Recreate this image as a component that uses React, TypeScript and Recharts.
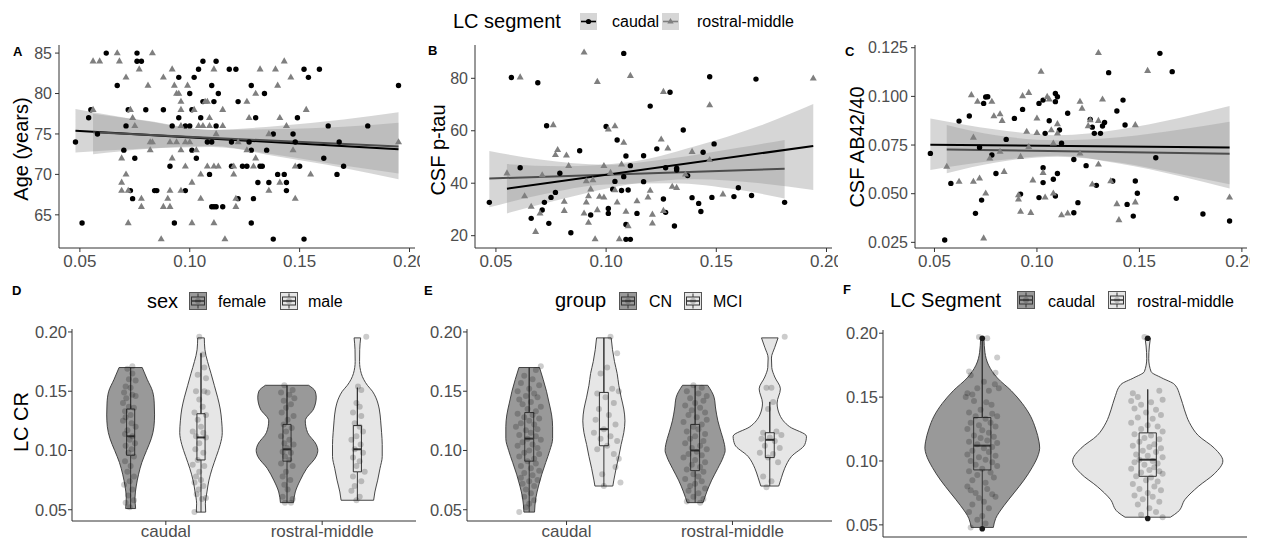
import React from "react";
import { ComposedChart, XAxis, YAxis, Area, Line, Scatter } from "recharts";

const FONT = '"Liberation Sans", Arial, Helvetica, sans-serif';

// ---------- top row: LC CR vs age / p-tau / AB42/40 ----------
const X_TICKS = [0.05, 0.1, 0.15, 0.2];
const AGE_TICKS = [65, 70, 75, 80, 85];
const PTAU_TICKS = [20, 40, 60, 80];
const AB_TICKS = [0.025, 0.05, 0.075, 0.1, 0.125];

const caudalA: [number, number][] = [[.048,74],[.051,64],[.054,77],[.055,78],[.058,75],[.062,85],[.067,81],[.070,73],[.071,76],[.072,78],[.073,68],[.074,67],[.075,72],[.076,85],[.076,84],[.078,84],[.080,78],[.084,68],[.085,68],[.088,78],[.091,71],[.092,76],[.093,64],[.095,82],[.095,77],[.098,76],[.098,68],[.100,80],[.100,76],[.101,73],[.101,78],[.102,82],[.103,72],[.104,83],[.105,77],[.106,84],[.106,79],[.108,74],[.109,70],[.110,74],[.110,66],[.110,81],[.111,66],[.111,79],[.112,84],[.112,76],[.112,66],[.113,80],[.115,66],[.118,83],[.119,74],[.119,71],[.121,83],[.122,79],[.122,67],[.124,71],[.126,71],[.127,74],[.128,81],[.128,73],[.128,64],[.129,67],[.130,77],[.131,69],[.132,71],[.133,71],[.134,80],[.135,73],[.136,69],[.138,75],[.138,62],[.140,70],[.143,70],[.144,69],[.144,68],[.147,75],[.148,74],[.149,77],[.150,71],[.152,83],[.152,62],[.154,82],[.159,83],[.161,72],[.163,76],[.167,70],[.168,74],[.170,71],[.181,76],[.195,81]];
const rostralA: [number, number][] = [[.056,84],[.059,84],[.056,78],[.067,85],[.068,84],[.071,82],[.069,72],[.069,69],[.069,68],[.071,70],[.072,68],[.072,64],[.073,78],[.074,77],[.075,76],[.077,83],[.078,67],[.078,66],[.081,81],[.082,74],[.082,73],[.083,85],[.083,74],[.087,62],[.088,82],[.088,66],[.090,67],[.091,74],[.091,66],[.091,68],[.092,83],[.092,72],[.093,81],[.094,74],[.094,80],[.095,80],[.096,76],[.096,78],[.096,68],[.096,73],[.096,79],[.098,74],[.098,71],[.099,81],[.100,74],[.101,64],[.101,69],[.102,78],[.103,73],[.104,76],[.105,67],[.105,70],[.106,76],[.107,79],[.108,71],[.108,79],[.109,77],[.109,76],[.111,64],[.111,71],[.111,83],[.112,75],[.113,71],[.115,76],[.115,78],[.116,62],[.120,71],[.120,70],[.121,67],[.121,66],[.122,74],[.126,73],[.126,79],[.127,77],[.129,71],[.130,72],[.130,80],[.132,83],[.136,68],[.136,75],[.139,83],[.140,81],[.141,69],[.141,77],[.143,84],[.144,76],[.146,82],[.147,73],[.148,71],[.148,67],[.153,78],[.155,70],[.195,74]];
const bandCaudalA: [number, number, number][] = [[.048,72.7,78.1],[.08,73.2,76.6],[.11,73.4,75.5],[.14,72.4,75.6],[.17,71.1,75.9],[.195,70.1,76.4]];
const bandRostralA: [number, number, number][] = [[.056,72.5,77.5],[.08,73.15,76.65],[.11,73.5,75.5],[.14,72.2,76.0],[.17,70.8,76.8],[.195,69.4,77.7]];
const fitCaudalA: [number, number][] = [[.048,75.4],[.195,73.1]];
const fitRostralA: [number, number][] = [[.056,75.2],[.195,73.45]];

const caudalB: [number, number][] = [[.047,32.7],[.057,80.3],[.061,45.9],[.066,26.6],[.069,78.3],[.071,29.8],[.072,32.7],[.073,61.9],[.074,24.7],[.075,34.6],[.077,36.5],[.079,43.8],[.084,21.1],[.088,52.4],[.093,27.9],[.100,61.6],[.101,30.4],[.101,28.5],[.103,37.7],[.104,40.7],[.105,56.5],[.107,37.2],[.108,42.5],[.108,89.5],[.109,18.6],[.109,50.4],[.109,24.3],[.110,37.4],[.111,18.6],[.111,46.7],[.114,28.5],[.117,50.5],[.117,40.6],[.120,69.4],[.123,53.1],[.126,34.0],[.127,45.9],[.127,28.9],[.129,74.7],[.131,23.7],[.132,45.0],[.132,45.7],[.135,60.3],[.137,42.9],[.139,34.5],[.142,32.3],[.143,29.2],[.144,51.8],[.147,80.6],[.148,34.6],[.149,55.0],[.158,34.9],[.160,38.3],[.166,35.3],[.168,79.7],[.181,32.7]];
const rostralB: [number, number][] = [[.055,43.8],[.061,80.4],[.063,35.1],[.066,31.1],[.068,21.5],[.070,28.5],[.071,43.1],[.076,62.2],[.077,50.8],[.078,52.7],[.081,33.0],[.081,29.5],[.082,50.6],[.083,46.6],[.090,89.9],[.090,28.5],[.091,40.8],[.091,32.7],[.092,35.1],[.092,25.0],[.093,37.7],[.094,41.2],[.095,18.7],[.096,29.8],[.096,78.7],[.097,34.9],[.099,46.6],[.099,34.6],[.101,60.6],[.102,44.0],[.104,61.8],[.104,37.4],[.105,32.7],[.106,18.7],[.107,47.2],[.108,55.5],[.109,29.2],[.110,23.7],[.111,81.0],[.114,33.2],[.119,34.6],[.120,37.2],[.121,24.7],[.121,28.1],[.125,56.7],[.126,29.5],[.126,74.9],[.128,53.3],[.130,38.7],[.132,38.3],[.136,43.4],[.139,52.0],[.147,69.8],[.147,48.9],[.153,35.8],[.194,80.0]];
const bandCaudalB: [number, number, number][] = [[.047,30.8,52.3],[.07,35.5,49.0],[.10,39.5,47.0],[.13,40.0,49.5],[.16,37.5,53.5],[.181,34.2,56.5]];
const bandRostralB: [number, number, number][] = [[.055,28.5,47.3],[.08,34.0,46.5],[.11,39.5,48.0],[.14,41.5,54.0],[.17,40.0,62.0],[.194,37.4,70.2]];
const fitCaudalB: [number, number][] = [[.047,41.8],[.181,45.5]];
const fitRostralB: [number, number][] = [[.055,37.9],[.194,54.2]];

const caudalC: [number, number][] = [[.048,.0707],[.055,.0262],[.058,.0553],[.062,.0873],[.067,.0899],[.070,.0399],[.072,.0738],[.073,.0467],[.074,.0964],[.075,.0997],[.076,.0998],[.078,.0699],[.080,.0604],[.085,.0779],[.089,.0887],[.092,.0498],[.093,.0933],[.101,.0480],[.101,.0964],[.103,.0633],[.103,.0557],[.103,.0981],[.104,.0810],[.106,.0875],[.108,.0574],[.109,.1015],[.109,.0488],[.109,.0973],[.110,.0604],[.110,.0998],[.111,.0827],[.112,.0759],[.115,.0913],[.118,.0676],[.118,.0402],[.120,.0454],[.124,.0644],[.126,.0882],[.127,.0842],[.128,.0810],[.129,.0543],[.131,.0810],[.132,.0848],[.133,.0866],[.135,.1122],[.137,.0565],[.139,.0925],[.142,.0981],[.143,.0853],[.144,.0445],[.147,.0385],[.148,.0565],[.149,.0502],[.158,.0685],[.160,.1221],[.166,.1127],[.168,.0476],[.181,.0396],[.194,.0360]];
const rostralC: [number, number][] = [[.056,.0639],[.062,.0562],[.068,.1007],[.069,.0789],[.069,.0562],[.071,.0973],[.072,.0579],[.074,.0271],[.075,.0502],[.077,.0682],[.078,.0973],[.079,.0899],[.082,.0716],[.082,.0909],[.083,.0875],[.084,.0613],[.091,.0493],[.091,.0471],[.092,.0408],[.092,.0690],[.093,.1002],[.095,.0819],[.096,.0741],[.096,.1019],[.097,.0402],[.098,.0569],[.100,.0813],[.100,.0887],[.102,.1127],[.103,.0608],[.104,.0481],[.105,.0998],[.106,.0985],[.107,.0827],[.108,.0759],[.108,.0502],[.110,.0858],[.110,.0810],[.112,.0390],[.115,.0399],[.121,.0973],[.121,.0707],[.122,.0938],[.125,.0848],[.126,.0878],[.127,.0548],[.130,.0651],[.130,.0875],[.130,.1224],[.132,.0985],[.136,.0565],[.139,.0447],[.140,.0365],[.148,.0853],[.148,.0456],[.154,.1132],[.194,.0481]];
const bandCaudalC: [number, number, number][] = [[.048,.0622,.0887],[.08,.0670,.0830],[.11,.0695,.0800],[.14,.0655,.0830],[.17,.0590,.0890],[.194,.0527,.0950]];
const bandRostralC: [number, number, number][] = [[.056,.0605,.0853],[.08,.0660,.0800],[.11,.0690,.0775],[.14,.0660,.0790],[.17,.0600,.0830],[.194,.0548,.0870]];
const fitCaudalC: [number, number][] = [[.048,.0752],[.194,.0738]];
const fitRostralC: [number, number][] = [[.056,.0727],[.194,.0705]];

// ---------- bottom row: violins of LC CR ----------
const segments = ["caudal", "rostral-middle"];
const LC_TICKS = [0.05, 0.1, 0.15, 0.2];

// violin profiles: [LC CR, half width in category units]
const violinFemaleCaudal: [number, number][] = [[.170,.074],[.160,.106],[.150,.140],[.140,.151],[.130,.153],[.120,.149],[.110,.132],[.100,.102],[.090,.072],[.080,.051],[.070,.036],[.060,.028],[.051,.032]];
const violinMaleCaudal: [number, number][] = [[.195,.021],[.185,.025],[.175,.042],[.165,.064],[.155,.085],[.145,.106],[.135,.123],[.125,.132],[.115,.136],[.105,.123],[.095,.098],[.085,.072],[.075,.051],[.065,.038],[.055,.028],[.048,.030]];
const violinFemaleRostral: [number, number][] = [[.155,.138],[.150,.180],[.145,.187],[.135,.170],[.125,.117],[.115,.132],[.105,.187],[.100,.197],[.095,.187],[.085,.127],[.075,.085],[.065,.053],[.056,.042]];
const violinMaleRostral: [number, number][] = [[.195,.021],[.185,.015],[.175,.014],[.165,.025],[.155,.064],[.150,.096],[.145,.117],[.135,.140],[.125,.149],[.115,.155],[.105,.159],[.095,.159],[.085,.145],[.075,.130],[.065,.112],[.058,.104]];

const violinCNCaudal: [number, number][] = [[.170,.062],[.160,.084],[.150,.104],[.140,.120],[.130,.135],[.120,.141],[.110,.141],[.100,.124],[.090,.100],[.080,.076],[.070,.056],[.060,.040],[.048,.032]];
const violinMCICaudal: [number, number][] = [[.195,.044],[.185,.052],[.175,.064],[.165,.080],[.155,.090],[.145,.104],[.135,.120],[.125,.127],[.115,.120],[.105,.104],[.095,.090],[.085,.074],[.075,.060],[.070,.054]];
const violinCNRostral: [number, number][] = [[.155,.076],[.145,.114],[.135,.124],[.125,.137],[.115,.157],[.105,.177],[.100,.181],[.095,.171],[.085,.137],[.075,.100],[.065,.070],[.056,.048]];
const violinMCIRostral: [number, number][] = [[.195,.050],[.187,.030],[.178,.010],[.170,.012],[.162,.030],[.152,.064],[.140,.044],[.130,.060],[.120,.120],[.112,.221],[.105,.211],[.095,.131],[.085,.090],[.077,.070],[.070,.054]];

const violinSegCaudal: [number, number][] = [[.196,.010],[.185,.016],[.175,.038],[.165,.091],[.155,.175],[.145,.242],[.135,.292],[.125,.323],[.115,.343],[.110,.347],[.105,.339],[.095,.302],[.085,.252],[.075,.192],[.065,.131],[.055,.081],[.048,.067]];
const violinSegRostral: [number, number][] = [[.196,.016],[.190,.010],[.180,.006],[.170,.020],[.165,.085],[.160,.161],[.150,.198],[.140,.222],[.130,.252],[.120,.305],[.110,.403],[.100,.454],[.090,.403],[.080,.305],[.070,.226],[.060,.181],[.056,.137]];

// boxplot stats: [lower whisker, q1, median, q3, upper whisker]
const boxD = [[.051,.096,.112,.135,.170],[.048,.092,.111,.131,.182],[.056,.091,.101,.122,.155],[.058,.082,.101,.121,.153]];
const boxE = [[.048,.091,.110,.132,.170],[.070,.104,.118,.149,.195],[.056,.083,.100,.122,.155],[.070,.094,.109,.115,.141]];
const boxF = [[.048,.093,.112,.134,.196],[.056,.088,.101,.122,.156]];
const outliersF = [[.196,.047],[.196,.055]];

// jittered points: [offset from violin centre, LC CR]
const jitterFemaleCaudal: [number, number][] = [[.011,.171],[-.021,.169],[.011,.165],[-.011,.160],[.032,.159],[-.032,.154],[0,.153],[-.042,.149],[.011,.147],[.032,.146],[-.028,.144],[-.049,.140],[-.011,.137],[.021,.136],[-.036,.133],[0,.130],[-.032,.128],[-.049,.125],[.006,.123],[.032,.120],[-.021,.117],[-.036,.114],[.011,.112],[-.006,.109],[.028,.106],[-.032,.104],[.006,.101],[-.015,.098],[.021,.095],[-.036,.091],[0,.087],[-.021,.082],[.021,.078],[-.006,.074],[-.042,.071],[.011,.067],[-.015,.062],[-.032,.056],[-.006,.052],[.021,.058]];
const jitterMaleCaudal: [number, number][] = [[-.011,.196],[.011,.181],[.021,.170],[-.021,.164],[.032,.161],[-.032,.150],[.021,.150],[.042,.149],[-.011,.143],[.011,.137],[-.042,.132],[.032,.130],[-.021,.126],[0,.120],[-.053,.116],[.015,.115],[-.032,.112],[.032,.111],[-.011,.106],[-.036,.101],[.015,.098],[-.021,.092],[-.053,.088],[.021,.087],[-.011,.082],[-.032,.078],[0,.075],[-.042,.073],[.015,.070],[-.015,.067],[-.028,.063],[.006,.059],[-.042,.048],[.032,.060]];
const jitterFemaleRostral: [number, number][] = [[-.017,.155],[.036,.151],[-.038,.149],[.015,.147],[.047,.144],[-.021,.142],[.025,.139],[-.006,.136],[-.034,.132],[.042,.129],[.004,.126],[-.021,.122],[.030,.119],[-.006,.116],[-.038,.112],[.015,.109],[-.017,.106],[.042,.105],[0,.102],[-.028,.099],[.025,.098],[-.013,.095],[.015,.092],[-.038,.089],[.036,.087],[-.006,.082],[-.028,.078],[.021,.075],[-.017,.071],[.004,.067],[-.028,.061],[.036,.059],[-.013,.056],[.025,.056]];
const jitterMaleRostral: [number, number][] = [[.057,.196],[.004,.154],[.025,.151],[-.006,.140],[.015,.137],[-.028,.132],[.025,.129],[-.017,.123],[.015,.120],[.036,.116],[-.006,.112],[-.038,.109],[.021,.105],[-.017,.101],[.036,.098],[-.028,.094],[.015,.091],[-.006,.087],[.047,.082],[-.028,.078],[.025,.074],[-.017,.070],[-.038,.066],[.015,.061],[-.006,.058]];

const jitterCNCaudal: [number, number][] = [[.07,.171],[.04,.168],[-.03,.163],[.02,.160],[-.05,.157],[.06,.155],[0,.152],[-.07,.150],[.03,.148],[-.02,.146],[.05,.145],[-.06,.143],[.01,.141],[-.04,.139],[.07,.137],[-.01,.135],[.04,.133],[-.07,.131],[.02,.130],[-.03,.128],[.06,.127],[0,.125],[-.05,.123],[.03,.122],[-.08,.120],[.05,.118],[-.02,.117],[.01,.115],[-.06,.113],[.04,.112],[-.01,.110],[.07,.109],[-.04,.107],[.02,.105],[-.07,.104],[.05,.102],[0,.100],[-.03,.098],[.06,.097],[-.06,.095],[.03,.093],[-.01,.091],[.04,.089],[-.05,.087],[.01,.085],[.06,.083],[-.03,.081],[.02,.079],[-.05,.077],[.05,.075],[0,.074],[-.04,.072],[.03,.070],[-.02,.067],[.01,.064],[-.03,.061],[.03,.058],[0,.055],[-.02,.052],[-.06,.048]];
const jitterMCICaudal: [number, number][] = [[.04,.196],[.08,.182],[.02,.170],[-.02,.165],[.05,.152],[.09,.150],[-.04,.148],[.01,.145],[.06,.140],[-.03,.135],[.03,.130],[-.05,.126],[.07,.122],[0,.118],[-.06,.115],[.04,.112],[-.02,.110],[.08,.108],[.02,.104],[-.04,.101],[.06,.097],[.09,.093],[.07,.086],[-.01,.080],[.10,.073],[0,.070]];
const jitterCNRostral: [number, number][] = [[-.01,.155],[.04,.153],[-.05,.150],[.02,.148],[.07,.146],[-.03,.144],[.05,.142],[0,.140],[-.06,.138],[.03,.136],[-.02,.134],[.06,.132],[-.04,.130],[.01,.128],[.07,.126],[-.07,.124],[.04,.122],[-.01,.120],[.02,.118],[-.05,.116],[.06,.114],[0,.112],[-.03,.110],[.05,.108],[-.06,.106],[.03,.104],[-.02,.102],[.07,.101],[.01,.099],[-.04,.097],[.04,.096],[-.07,.094],[0,.092],[.06,.090],[-.02,.088],[.03,.086],[-.05,.084],[.05,.082],[-.01,.080],[.02,.078],[-.06,.076],[.04,.074],[0,.072],[-.03,.070],[.06,.068],[-.04,.066],[.02,.064],[-.01,.061],[.05,.059],[-.05,.057],[.03,.056]];
const jitterMCIRostral: [number, number][] = [[.09,.196],[-.02,.153],[.01,.153],[.02,.141],[-.01,.135],[.04,.116],[-.04,.115],[.07,.113],[0,.111],[-.05,.110],[.03,.108],[-.03,.104],[.06,.102],[-.06,.098],[.02,.097],[-.01,.094],[.05,.090],[-.04,.078],[.01,.074],[-.02,.069]];

const jitterSegCaudal: [number, number][] = [[-.02,.197],[.03,.196],[.09,.181],[-.08,.170],[.08,.169],[-.07,.167],[.01,.162],[.076,.160],[-.03,.157],[.10,.157],[.04,.155],[-.09,.153],[-.06,.152],[-.10,.150],[-.05,.147],[.024,.146],[.056,.144],[-.01,.140],[-.08,.138],[.06,.137],[-.04,.135],[.09,.135],[.02,.133],[-.07,.130],[.05,.130],[-.02,.128],[.08,.127],[-.09,.125],[0,.124],[.04,.122],[-.05,.120],[.07,.119],[-.01,.118],[.03,.116],[-.08,.115],[.09,.114],[-.03,.113],[.06,.111],[.01,.110],[-.06,.108],[.04,.107],[-.09,.105],[.08,.104],[-.02,.103],[.02,.101],[-.07,.100],[.06,.099],[-.04,.097],[.09,.096],[0,.094],[-.08,.092],[.05,.091],[-.03,.089],[.07,.087],[-.06,.085],[.02,.083],[-.09,.080],[.03,.078],[-.07,.077],[-.04,.075],[.06,.074],[.08,.072],[-.02,.071],[.01,.068],[-.06,.066],[.04,.063],[-.08,.060],[0,.057],[-.03,.054],[.02,.051],[-.07,.048]];
const jitterSegRostral: [number, number][] = [[-.02,.197],[-.09,.153],[-.06,.150],[.07,.155],[-.10,.147],[-.04,.144],[.02,.146],[.09,.148],[-.08,.141],[.05,.140],[-.01,.138],[.08,.136],[-.06,.134],[.03,.133],[-.10,.130],[0,.128],[.06,.127],[-.04,.125],[.09,.123],[-.08,.121],[.02,.120],[-.02,.118],[.07,.117],[-.05,.115],[.04,.113],[-.09,.112],[.01,.111],[.08,.110],[-.03,.108],[.05,.107],[-.07,.105],[0,.104],[.09,.103],[-.05,.101],[.03,.100],[-.08,.099],[.06,.098],[-.02,.097],[.04,.095],[-.10,.094],[.01,.093],[.07,.092],[-.04,.091],[.09,.090],[-.07,.088],[.02,.087],[-.01,.085],[.06,.084],[-.09,.082],[.04,.080],[-.05,.078],[.08,.077],[0,.075],[-.08,.073],[.03,.072],[-.03,.070],[.07,.068],[-.06,.066],[.01,.063],[.05,.060],[-.04,.058],[.09,.056]];

// ---------- helpers ----------
const X_DOMAIN: [number, number] = [0.0405, 0.2025];
const LC_DOMAIN: [number, number] = [0.0405, 0.2025];
const CAT_DOMAIN: [number, number] = [0.4, 2.6];
const AXIS = "#333333";
const TICK_TEXT = "#4d4d4d";
const DARK = "#999999";
const LIGHT = "#e6e6e6";

const toXY = (a: [number, number][]) => a.map(([x, y]) => ({ x, y }));
const toBand = (a: [number, number, number][]) => a.map(([x, lo, hi]) => ({ x, band: [lo, hi] }));

const Dot = (p: any) => <circle cx={p.cx} cy={p.cy} r={2.7} fill="#000" />;
const Tri = (p: any) => (
  <path d={`M${p.cx},${p.cy - 3.9}L${p.cx + 3.5},${p.cy + 2.2}L${p.cx - 3.5},${p.cy + 2.2}Z`} fill="#7f7f7f" />
);
const Jit = (p: any) => <circle cx={p.cx} cy={p.cy} r={3} fill="#000" fillOpacity={0.2} />;
const Outlier = (p: any) => <circle cx={p.cx} cy={p.cy} r={2.8} fill="#1a1a1a" />;

interface ScatterPanelProps {
  left: number;
  width: number;
  yWidth: number;
  right: number;
  yDomain: [number, number];
  yTicks: number[];
  yFmt: (v: number) => string;
  bands: [number, number, number][][];
  fits: { data: [number, number][]; color: string }[];
  circles: [number, number][];
  triangles: [number, number][];
}

function ScatterPanel(p: ScatterPanelProps) {
  return (
    <div style={{ position: "absolute", left: p.left, top: 0, width: p.width, height: 280, overflow: "hidden" }}>
      <ComposedChart width={p.width} height={280} margin={{ top: 45, right: p.right, bottom: 0, left: 0 }}>
        <XAxis
          type="number"
          dataKey="x"
          domain={X_DOMAIN}
          allowDataOverflow
          ticks={X_TICKS}
          interval={0}
          tickFormatter={(v: number) => v.toFixed(2)}
          height={32}
          tickSize={4}
          tickMargin={3}
          stroke={AXIS}
          tick={{ fill: TICK_TEXT, fontSize: 17, fontFamily: FONT }}
        />
        <YAxis
          type="number"
          dataKey="y"
          domain={p.yDomain}
          allowDataOverflow
          ticks={p.yTicks}
          interval={0}
          tickFormatter={p.yFmt}
          width={p.yWidth}
          tickSize={4}
          tickMargin={3}
          stroke={AXIS}
          tick={{ fill: TICK_TEXT, fontSize: 16, fontFamily: FONT }}
        />
        {p.bands.map((b, i) => (
          <Area key={"band" + i} data={toBand(b)} dataKey="band" type="monotone" fill="#999999" fillOpacity={0.4} stroke="none" isAnimationActive={false} activeDot={false} />
        ))}
        {p.fits.map((f, i) => (
          <Line key={"fit" + i} data={toXY(f.data)} dataKey="y" type="linear" stroke={f.color} strokeWidth={2} dot={false} activeDot={false} isAnimationActive={false} />
        ))}
        <Scatter data={toXY(p.circles)} dataKey="y" shape={Dot} isAnimationActive={false} />
        <Scatter data={toXY(p.triangles)} dataKey="y" shape={Tri} isAnimationActive={false} />
      </ComposedChart>
    </div>
  );
}

interface ViolinSpec {
  pos: number;
  prof: [number, number][];
  fill: string;
  box: number[];
  jitter: [number, number][];
}

interface ViolinPanelProps {
  left: number;
  width: number;
  yWidth: number;
  right: number;
  top: number;
  xHeight: number;
  showX: boolean;
  boxHalf: number;
  violins: ViolinSpec[];
  outliers?: { pos: number; ys: number[] }[];
}

const segLine = (key: string, data: { y: number; v: number }[], width: number) => (
  <Line key={key} data={data} dataKey="v" type="linear" stroke="#333333" strokeWidth={width} dot={false} activeDot={false} isAnimationActive={false} />
);

function ViolinPanel(p: ViolinPanelProps) {
  const jitterData = p.violins.flatMap((v) => v.jitter.map(([dx, y]) => ({ x: v.pos + dx, y })));
  const outlierData = (p.outliers || []).flatMap((o) => o.ys.map((y) => ({ x: o.pos, y })));
  return (
    <div style={{ position: "absolute", left: p.left, top: 280, width: p.width, height: 259, overflow: "hidden" }}>
      <ComposedChart layout="vertical" width={p.width} height={259} margin={{ top: p.top, right: p.right, bottom: 0, left: 0 }}>
        <XAxis
          type="number"
          dataKey="x"
          domain={CAT_DOMAIN}
          allowDataOverflow
          ticks={[1, 2]}
          interval={0}
          tickFormatter={(v: number) => segments[v - 1]}
          height={p.xHeight}
          tickSize={p.showX ? 4 : 0}
          tickMargin={0}
          tickLine={p.showX}
          tick={p.showX ? { fill: TICK_TEXT, fontSize: 17, fontFamily: FONT } : false}
          stroke={AXIS}
        />
        <YAxis
          type="number"
          dataKey="y"
          reversed
          domain={LC_DOMAIN}
          allowDataOverflow
          ticks={LC_TICKS}
          interval={0}
          tickFormatter={(v: number) => v.toFixed(2)}
          width={p.yWidth}
          tickSize={4}
          tickMargin={1}
          stroke={AXIS}
          tick={{ fill: TICK_TEXT, fontSize: 16.5, fontFamily: FONT }}
        />
        {p.violins.map((v, i) => (
          <Area
            key={"vio" + i}
            data={v.prof.map(([y, hw]) => ({ y, v: [v.pos - hw, v.pos + hw] }))}
            dataKey="v"
            type="monotone"
            fill={v.fill}
            fillOpacity={1}
            stroke="#333333"
            strokeWidth={0.9}
            isAnimationActive={false}
            activeDot={false}
          />
        ))}
        {p.violins.map((v, i) => {
          const [yTop, hTop] = v.prof[0];
          return segLine("top" + i, [{ y: yTop, v: v.pos - hTop }, { y: yTop, v: v.pos + hTop }], 0.9);
        })}
        {p.violins.map((v, i) => {
          const [yBot, hBot] = v.prof[v.prof.length - 1];
          return segLine("bot" + i, [{ y: yBot, v: v.pos - hBot }, { y: yBot, v: v.pos + hBot }], 0.9);
        })}
        <Scatter data={jitterData} dataKey="x" shape={Jit} isAnimationActive={false} />
        {p.violins.map((v, i) => {
          const [lo, q1, , q3, hi] = v.box;
          const c = v.pos;
          const b = p.boxHalf;
          const pts: [number, number][] = [[c, lo], [c, q1], [c + b, q1], [c + b, q3], [c, q3], [c, hi], [c, q3], [c - b, q3], [c - b, q1], [c, q1]];
          return segLine("box" + i, pts.map(([x, y]) => ({ y, v: x })), 1);
        })}
        {p.violins.map((v, i) =>
          segLine("med" + i, [{ y: v.box[2], v: v.pos - p.boxHalf }, { y: v.box[2], v: v.pos + p.boxHalf }], 2)
        )}
        {outlierData.length > 0 && <Scatter data={outlierData} dataKey="x" shape={Outlier} isAnimationActive={false} />}
      </ComposedChart>
    </div>
  );
}

function ViolinKey({ x, y, fill }: { x: number; y: number; fill: string }) {
  const s = 18;
  const cx = x + s / 2;
  return (
    <g>
      <rect x={x + 0.5} y={y + 0.5} width={s - 1} height={s - 1} fill={fill} stroke="#555" strokeWidth={1} />
      <line x1={cx} x2={cx} y1={y + 1.5} y2={y + 5} stroke="#333" strokeWidth={1} />
      <line x1={cx} x2={cx} y1={y + s - 5} y2={y + s - 1.5} stroke="#333" strokeWidth={1} />
      <rect x={x + 2.5} y={y + 5} width={s - 5} height={s - 10} fill="none" stroke="#333" strokeWidth={1} />
      <line x1={x + 2.5} x2={x + s - 2.5} y1={y + s / 2} y2={y + s / 2} stroke="#333" strokeWidth={1.5} />
      <circle cx={cx} cy={y + s / 2} r={3} fill="#000" fillOpacity={0.2} />
    </g>
  );
}

function SmoothKey({ x, y, color, triangle }: { x: number; y: number; color: string; triangle?: boolean }) {
  const cx = x + 8.5;
  const cy = y + 8.5;
  return (
    <g>
      <rect x={x} y={y} width={17} height={17} fill="#d6d6d6" />
      <line x1={x + 1} x2={x + 16} y1={cy} y2={cy} stroke={color} strokeWidth={1.6} />
      {triangle ? (
        <path d={`M${cx},${cy - 3.6}L${cx + 3.2},${cy + 2}L${cx - 3.2},${cy + 2}Z`} fill={color} />
      ) : (
        <circle cx={cx} cy={cy} r={2.6} fill={color} />
      )}
    </g>
  );
}

function Overlay() {
  const letter = { fontFamily: FONT, fontSize: 13, fontWeight: 700, fill: "#000" } as const;
  const title = { fontFamily: FONT, fontSize: 20, fill: "#000" } as const;
  const lab = { fontFamily: FONT, fontSize: 16, fill: "#000" } as const;
  return (
    <svg width={1264} height={539} style={{ position: "absolute", left: 0, top: 0, pointerEvents: "none" }}>
      <text x={13} y={56} {...letter}>A</text>
      <text x={428} y={55} {...letter}>B</text>
      <text x={845} y={56} {...letter}>C</text>
      <text x={12} y={295} {...letter}>D</text>
      <text x={424} y={295} {...letter}>E</text>
      <text x={843} y={294} {...letter}>F</text>

      <text transform="translate(28,149) rotate(-90)" textAnchor="middle" {...title}>Age (years)</text>
      <text transform="translate(445,150) rotate(-90)" textAnchor="middle" {...title}>CSF p-tau</text>
      <text transform="translate(864,147) rotate(-90)" textAnchor="middle" {...title}>CSF AB42/40</text>
      <text transform="translate(28,422) rotate(-90)" textAnchor="middle" {...title}>LC CR</text>

      <text x={453} y={28} {...title}>LC segment</text>
      <SmoothKey x={580} y={13} color="#000" />
      <text x={612} y={27} {...lab}>caudal</text>
      <SmoothKey x={662} y={13} color="#7f7f7f" triangle />
      <text x={697} y={27} {...lab}>rostral-middle</text>

      <text x={147} y={308} {...title}>sex</text>
      <ViolinKey x={189} y={292} fill={DARK} />
      <text x={218} y={307} {...lab}>female</text>
      <ViolinKey x={280} y={292} fill={LIGHT} />
      <text x={308} y={307} {...lab}>male</text>

      <text x={555} y={307} {...title}>group</text>
      <ViolinKey x={619} y={292} fill={DARK} />
      <text x={649} y={307} {...lab}>CN</text>
      <ViolinKey x={684} y={292} fill={LIGHT} />
      <text x={713} y={307} {...lab}>MCI</text>

      <text x={890} y={307} {...title}>LC Segment</text>
      <ViolinKey x={1017} y={291} fill={DARK} />
      <text x={1048} y={307} {...lab}>caudal</text>
      <ViolinKey x={1108} y={291} fill={LIGHT} />
      <text x={1137} y={307} {...lab}>rostral-middle</text>
    </svg>
  );
}

export default function App() {
  const dodge = 0.225;
  return (
    <div style={{ position: "absolute", left: 0, top: 0, width: 1264, height: 539, background: "#fff", overflow: "hidden" }}>
      <ScatterPanel
        left={0} width={420} yWidth={59} right={5}
        yDomain={[60.9, 86.0]} yTicks={AGE_TICKS} yFmt={(v) => String(v)}
        bands={[bandCaudalA, bandRostralA]}
        fits={[{ data: fitCaudalA, color: "#000" }, { data: fitRostralA, color: "#4d4d4d" }]}
        circles={caudalA} triangles={rostralA}
      />
      <ScatterPanel
        left={420} width={418} yWidth={55} right={6}
        yDomain={[15.3, 92.7]} yTicks={PTAU_TICKS} yFmt={(v) => String(v)}
        bands={[bandCaudalB, bandRostralB]}
        fits={[{ data: fitCaudalB, color: "#4d4d4d" }, { data: fitRostralB, color: "#000" }]}
        circles={caudalB} triangles={rostralB}
      />
      <ScatterPanel
        left={840} width={410} yWidth={75} right={3}
        yDomain={[0.0221, 0.1264]} yTicks={AB_TICKS} yFmt={(v) => v.toFixed(3)}
        bands={[bandCaudalC, bandRostralC]}
        fits={[{ data: fitCaudalC, color: "#000" }, { data: fitRostralC, color: "#4d4d4d" }]}
        circles={caudalC} triangles={rostralC}
      />
      <ViolinPanel
        left={0} width={420} yWidth={72} right={4} top={49} xHeight={18} showX boxHalf={0.026}
        violins={[
          { pos: 1 - dodge, prof: violinFemaleCaudal, fill: DARK, box: boxD[0], jitter: jitterFemaleCaudal },
          { pos: 1 + dodge, prof: violinMaleCaudal, fill: LIGHT, box: boxD[1], jitter: jitterMaleCaudal },
          { pos: 2 - dodge, prof: violinFemaleRostral, fill: DARK, box: boxD[2], jitter: jitterFemaleRostral },
          { pos: 2 + dodge, prof: violinMaleRostral, fill: LIGHT, box: boxD[3], jitter: jitterMaleRostral },
        ]}
      />
      <ViolinPanel
        left={420} width={420} yWidth={47} right={8} top={49} xHeight={18} showX boxHalf={0.027}
        violins={[
          { pos: 1 - dodge, prof: violinCNCaudal, fill: DARK, box: boxE[0], jitter: jitterCNCaudal },
          { pos: 1 + dodge, prof: violinMCICaudal, fill: LIGHT, box: boxE[1], jitter: jitterMCICaudal },
          { pos: 2 - dodge, prof: violinCNRostral, fill: DARK, box: boxE[2], jitter: jitterCNRostral },
          { pos: 2 + dodge, prof: violinMCIRostral, fill: LIGHT, box: boxE[3], jitter: jitterMCIRostral },
        ]}
      />
      <ViolinPanel
        left={840} width={424} yWidth={43} right={17} top={50} xHeight={2} showX={false} boxHalf={0.052}
        violins={[
          { pos: 1, prof: violinSegCaudal, fill: DARK, box: boxF[0], jitter: jitterSegCaudal },
          { pos: 2, prof: violinSegRostral, fill: LIGHT, box: boxF[1], jitter: jitterSegRostral },
        ]}
        outliers={[{ pos: 1, ys: outliersF[0] }, { pos: 2, ys: outliersF[1] }]}
      />
      <Overlay />
    </div>
  );
}
